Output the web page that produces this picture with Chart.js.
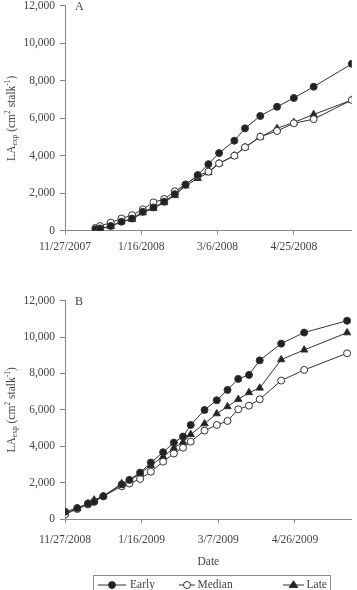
<!DOCTYPE html>
<html>
<head>
<meta charset="utf-8">
<script src="https://cdn.jsdelivr.net/npm/chart.js@4/dist/chart.umd.min.js"></script>
<style>
  html, body { margin: 0; padding: 0; background: #fff; }
  body { width: 357px; height: 590px; position: relative; overflow: hidden; }
  .box { position: absolute; left: 0; width: 357px; }
  #boxA { top: -5px; height: 267px; }
  #boxB { top: 280px; height: 310px; }
</style>
</head>
<body>
<div class="box" id="boxA"><canvas id="chartA"></canvas></div>
<div class="box" id="boxB"><canvas id="chartB"></canvas></div>
<script>
const seriesNames = ["Early", "Median", "Late"];

// panel A : days after 11/27/2007
const daysA = [20, 23, 30, 37, 44, 51, 58, 65, 72, 79, 87, 94, 101, 111, 118, 128, 139, 150, 163, 188];
const earlyA = [80, 120, 250, 480, 650, 1010, 1240, 1550, 1950, 2450, 2970, 3550, 4140, 4800, 5460, 6120, 6610, 7080, 7680, 8900];
const medianA = [150, 250, 430, 650, 830, 1140, 1510, 1690, 2100, 2470, 2930, 3150, 3590, 4000, 4450, 5010, 5320, 5730, 5950, 6970];
const lateA = [50, 100, 230, 480, 600, 960, 1190, 1500, 1880, 2400, 2790, 3100, 3590, 4000, 4450, 5000, 5460, 5780, 6200, 6970];
const tickLabelsA = ["11/27/2007", "1/16/2008", "3/6/2008", "4/25/2008"];

// panel B : days after 11/27/2008
const daysB = [0, 8, 15, 19, 25, 37, 42, 49, 56, 64, 71, 77, 82, 91, 99, 106, 113, 120, 127, 141, 156, 184];
const earlyB = [400, 600, 850, 950, 1250, 1900, 2150, 2550, 3100, 3670, 4200, 4530, 5170, 5990, 6530, 7095, 7700, 7920, 8720, 9640, 10250, 10900];
const medianB = [250, 550, 800, 950, 1250, 1800, 1950, 2200, 2600, 3150, 3600, 3920, 4250, 4860, 5170, 5390, 6030, 6230, 6580, 7610, 8195, 9110];
const lateB = [300, 580, 850, 1050, 1250, 1950, 2100, 2500, 2950, 3430, 3900, 4220, 4650, 5240, 5790, 6180, 6580, 6950, 7200, 8760, 9295, 10240];
const tickLabelsB = ["11/27/2008", "1/16/2009", "3/7/2009", "4/26/2009"];

const yTicks = [0, 2000, 4000, 6000, 8000, 10000, 12000];

const FONT = "'Liberation Serif', 'Times New Roman', serif";
const textColor = "#444";
const axisColor = "#8a8a8a";
const lineColor = "#333";

const styles = [
  { pointStyle: "circle", fill: "#222", radius: 3.5 },
  { pointStyle: "circle", fill: "#fff", radius: 3.5 },
  { pointStyle: "triangle", fill: "#222", radius: 4.2 }
];

function makeDatasets(days, lists) {
  return lists.map((vals, i) => ({
    label: seriesNames[i],
    data: days.map((d, k) => ({ x: d, y: vals[k] })),
    borderColor: lineColor,
    borderWidth: 1,
    pointStyle: styles[i].pointStyle,
    pointRadius: styles[i].radius,
    pointBackgroundColor: styles[i].fill,
    pointBorderColor: lineColor,
    pointBorderWidth: 1,
    tension: 0
  }));
}

/* =======================
   DECOR : y title, panel letter, x title, legend
======================= */
const decor = {
  id: "decor",
  afterDraw(chart, args, opts) {
    const ctx = chart.ctx;
    const area = chart.chartArea;
    ctx.save();
    ctx.fillStyle = textColor;
    ctx.textBaseline = "middle";

    // panel letter
    ctx.font = "12px " + FONT;
    ctx.textAlign = "left";
    ctx.fillText(opts.panel, 75, area.top + 1);

    // y title, rotated, with sub/superscripts
    const parts = [
      ["LA", 11.5, 0], ["exp", 7.5, 3], [" (cm", 11.5, 0], ["2", 7.5, -4],
      [" stalk", 11.5, 0], ["-1", 7.5, -4], [")", 11.5, 0]
    ];
    let total = 0;
    parts.forEach(p => { ctx.font = p[1] + "px " + FONT; total += ctx.measureText(p[0]).width; });
    ctx.translate(12, (area.top + area.bottom) / 2);
    ctx.rotate(-Math.PI / 2);
    let x = -total / 2;
    parts.forEach(p => {
      ctx.font = p[1] + "px " + FONT;
      ctx.fillText(p[0], x, p[2]);
      x += ctx.measureText(p[0]).width;
    });
    ctx.restore();

    if (!opts.legend) return;

    ctx.save();
    ctx.fillStyle = textColor;
    ctx.textBaseline = "middle";
    ctx.font = "11.5px " + FONT;
    ctx.textAlign = "center";
    ctx.fillText("Date", (area.left + area.right) / 2, 282);

    // legend box
    ctx.strokeStyle = axisColor;
    ctx.lineWidth = 1;
    ctx.strokeRect(93.5, 295.5, 237, 30);

    const items = [
      { x1: 98, x2: 126, tx: 130 },
      { x1: 179, x2: 195, tx: 197.5 },
      { x1: 283, x2: 304, tx: 306.5 }
    ];
    const ly = 305;
    items.forEach((it, i) => {
      ctx.strokeStyle = lineColor;
      ctx.beginPath();
      ctx.moveTo(it.x1, ly);
      ctx.lineTo(it.x2, ly);
      ctx.stroke();
      const mx = (it.x1 + it.x2) / 2;
      const r = styles[i].radius;
      ctx.fillStyle = styles[i].fill;
      ctx.beginPath();
      if (styles[i].pointStyle === "circle") {
        ctx.arc(mx, ly, r, 0, Math.PI * 2);
      } else {
        ctx.moveTo(mx, ly - r);
        ctx.lineTo(mx + r * 0.866 * 1.2, ly + r * 0.6);
        ctx.lineTo(mx - r * 0.866 * 1.2, ly + r * 0.6);
        ctx.closePath();
      }
      ctx.fill();
      ctx.stroke();
      ctx.fillStyle = textColor;
      ctx.textAlign = "left";
      ctx.fillText(seriesNames[i], it.tx, ly);
    });
    ctx.restore();
  }
};

function makeChart(id, days, lists, tickLabels, cfg) {
  return new Chart(document.getElementById(id), {
    type: "line",
    data: { datasets: makeDatasets(days, lists) },
    plugins: [decor],
    options: {
      responsive: true,
      maintainAspectRatio: false,
      animation: false,
      events: [],
      layout: { padding: { top: cfg.top, right: cfg.right, left: 0, bottom: 0 } },
      plugins: {
        legend: { display: false },
        tooltip: { enabled: false },
        decor: { panel: cfg.panel, legend: cfg.legend }
      },
      scales: {
        x: {
          type: "linear",
          min: 0,
          max: cfg.xMax,
          afterFit: s => { s.height = cfg.xHeight; },
          grid: { drawOnChartArea: false, tickLength: 4, color: axisColor },
          border: { color: axisColor, width: 1 },
          ticks: {
            stepSize: 50,
            includeBounds: false,
            maxRotation: 0,
            autoSkip: false,
            padding: cfg.xPad,
            color: textColor,
            font: { family: FONT, size: 11.5 },
            callback: (v, i) => tickLabels[i]
          }
        },
        y: {
          min: 0,
          max: 12000,
          afterFit: s => { s.width = 65; },
          afterBuildTicks: s => { s.ticks = yTicks.map(v => ({ value: v })); },
          grid: { drawOnChartArea: false, tickLength: 5, color: axisColor },
          border: { color: axisColor, width: 1 },
          ticks: {
            padding: 5,
            color: textColor,
            font: { family: FONT, size: 11.5, lineHeight: 1 },
            callback: v => v.toLocaleString("en-US")
          }
        }
      }
    }
  });
}

makeChart("chartA", daysA, [earlyA, medianA, lateA], tickLabelsA,
  { panel: "A", legend: false, top: 10.75, right: 4.3, xMax: 188, xHeight: 31.3, xPad: 5 });

makeChart("chartB", daysB, [earlyB, medianB, lateB], tickLabelsB,
  { panel: "B", legend: true, top: 20.7, right: 5.3, xMax: 187, xHeight: 71, xPad: 10 });
</script>
</body>
</html>
